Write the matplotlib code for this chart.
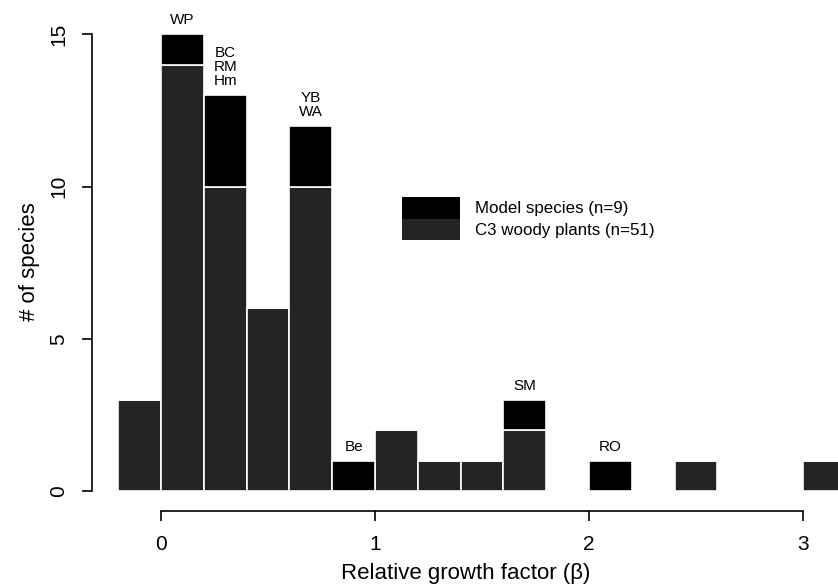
import numpy as np
import matplotlib
matplotlib.use("Agg")
from matplotlib import pyplot as plt
from matplotlib.patches import Patch

plt.rcParams['font.family'] = ['Liberation Sans', 'DejaVu Sans']

# histogram bins (left edges), width 0.2
bin_left = [-0.2, 0.0, 0.2, 0.4, 0.6, 0.8, 1.0, 1.2, 1.4, 1.6, 2.0, 2.4, 3.0]
c3_woody = [3, 14, 10, 6, 10, 0, 2, 1, 1, 2, 0, 1, 1]
model_species = [0, 1, 3, 0, 2, 1, 0, 0, 0, 1, 1, 0, 0]
species_labels = ["", "WP", "BC\nRM\nHm", "", "YB\nWA", "Be", "", "", "", "SM", "RO", "", ""]
bin_width = 0.2

x_ticks = [0, 1, 2, 3]
y_ticks = [0, 5, 10, 15]

c3_color = "#242424"
model_color = "#000000"

fig = plt.figure(figsize=(8.38, 5.87), dpi=100)
ax = fig.add_axes([92/838, 1 - 511/587, 746/838, 501/587])

left = np.array(bin_left)
c3 = np.array(c3_woody)
mod = np.array(model_species)

ax.bar(left, c3, width=bin_width, align='edge', color=c3_color,
       edgecolor='white', linewidth=1.2)
ax.bar(left, mod, width=bin_width, bottom=c3, align='edge', color=model_color,
       edgecolor='white', linewidth=1.2)

for xl, h, lab in zip(left, c3 + mod, species_labels):
    if lab:
        ax.annotate(lab, (xl + bin_width/2, h), xytext=(0, 5), textcoords='offset points',
                    ha='center', va='bottom', fontsize=11, linespacing=1.0)

ax.set_xlim((92-161)/214, (838-161)/214)
ax.set_ylim((491-511)/30.45, (491-10)/30.45)

for s in ['top', 'right']:
    ax.spines[s].set_visible(False)
ax.spines['left'].set_bounds(0, 15)
ax.spines['bottom'].set_bounds(0, 3)
ax.spines['left'].set_linewidth(1.2)
ax.spines['bottom'].set_linewidth(1.2)

ax.set_xticks(x_ticks)
ax.set_yticks(y_ticks)
ax.tick_params(axis='both', length=7, width=1.2, labelsize=15)
ax.tick_params(axis='x', pad=10)
ax.tick_params(axis='y', pad=10)
for t in ax.get_yticklabels():
    t.set_rotation(90)
    t.set_va('center')

ax.set_xlabel("Relative growth factor (β)", fontsize=16)
ax.set_ylabel("# of species", fontsize=16)
ax.xaxis.set_label_coords((466-92)/746, -(574-511)/501)
ax.yaxis.set_label_coords(-(92-30)/746, (511-262)/501)
ax.xaxis.label.set_va('center')
ax.yaxis.label.set_va('center')

handles = [Patch(facecolor=model_color, edgecolor='none'),
           Patch(facecolor=c3_color, edgecolor='none')]
ax.legend(handles, ["Model species (n=9)", "C3 woody plants (n=51)"],
          loc='upper left', bbox_to_anchor=(402/838, 1 - 197/587),
          bbox_transform=fig.transFigure, frameon=False, fontsize=12.2,
          handlelength=3.45, handleheight=1.58, labelspacing=0,
          handletextpad=0.85, borderpad=0, borderaxespad=0)

fig.savefig("out.png", dpi=100)
